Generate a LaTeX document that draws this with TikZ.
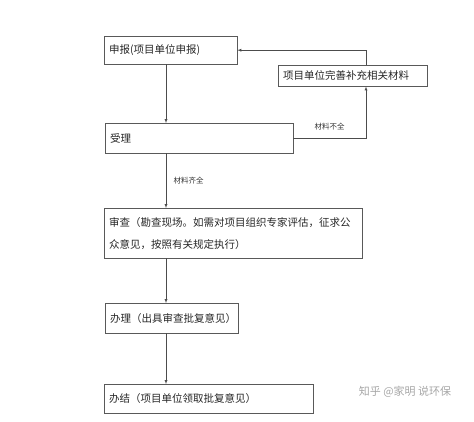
\documentclass[tikz,border=0pt]{standalone}
\usepackage{fontspec}
\newfontfamily\cjk{Noto Sans CJK SC}
\usetikzlibrary{positioning}

\begin{document}
\begin{tikzpicture}[
                            x=1pt, y=-1pt,
                            >=latex,
                            box/.style={rectangle, draw=black!65, text=black!85, font=\cjk\fontsize{10.5}{22}\selectfont, align=left, inner xsep=5pt, inner ysep=0pt, anchor=north west},
                            lbl/.style={text=black!80, font=\cjk\fontsize{7.5}{9}\selectfont},
                            link/.style={draw=black!70}
                        ]
                        \useasboundingbox (0,0) rectangle (474,421);
                        % Blocks
                        \node [box, text width=123pt, minimum height=28pt] (apply) at (104,36) {申报(项目单位申报)};
                        \node [box, text width=139pt, minimum height=21pt] (supp) at (278,65) {项目单位完善补充相关材料};
                        \node [box, text width=178pt, minimum height=30pt] (accept) at (105,123) {受理};
                        \node [box, text width=248pt, minimum height=50pt] (review) at (104,208) {审查（勘查现场。如需对项目组织专家评估，征求公\\众意见，按照有关规定执行）};
                        \node [box, text width=123pt, minimum height=30pt] (handle) at (105,303) {办理（出具审查批复意见）};
                        \node [box, text width=199pt, minimum height=29pt] (finish) at (104,384) {办结（项目单位领取批复意见）};
                        \node [text=black!35, font=\cjk\fontsize{11}{13}\selectfont] (mark) at (405,392) {知乎 @家明 说环保};

                        % Guides
                        \coordinate (spine) at (166,0);
                        \coordinate (loop) at (366,0);

                        % Connections
                        \draw [link,->] (apply.south -| spine) -- (accept.north -| spine);
                        \draw [link,->] (accept.south -| spine) --node[lbl,right=4pt]{材料齐全} (review.north -| spine);
                        \draw [link,->] (review.south -| spine) -- (handle.north -| spine);
                        \draw [link,->] (handle.south -| spine) -- (finish.north -| spine);
                        \draw [link,->] (accept.east) -|node[lbl,pos=0.25,above=5pt]{材料不全} (supp.south -| loop);
                        \draw [link,->] (supp.north -| loop) |- (apply.east);
                    \end{tikzpicture}
\end{document}
